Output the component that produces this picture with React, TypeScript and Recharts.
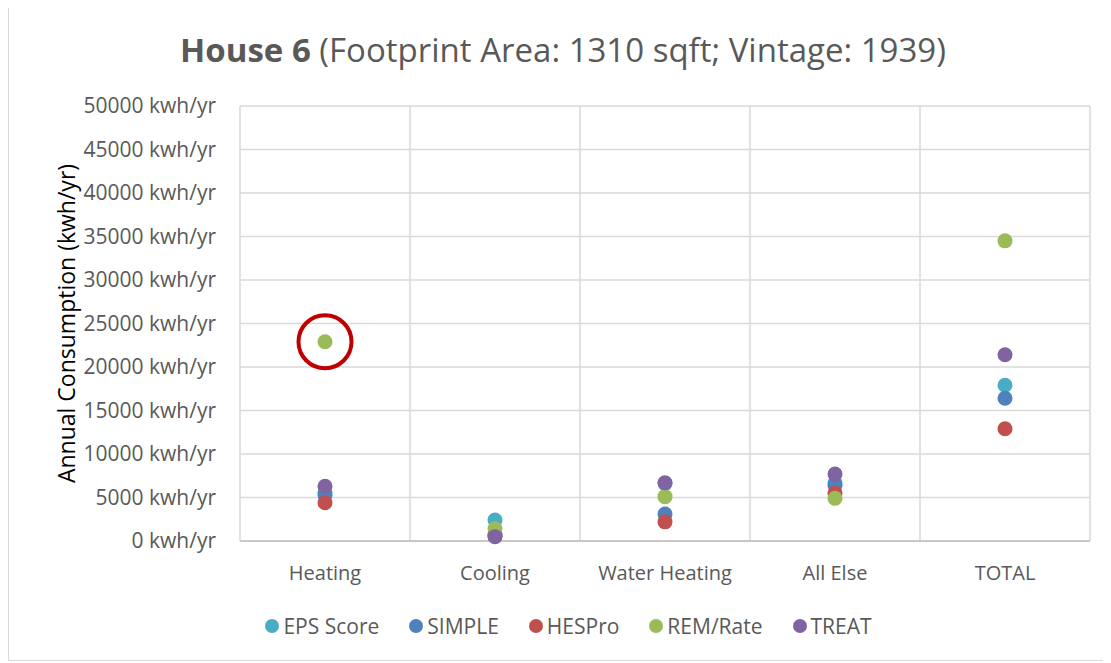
import React from 'react';
import {
  ScatterChart,
  Scatter,
  XAxis,
  YAxis,
  CartesianGrid,
  ReferenceLine,
  ReferenceDot,
  Legend,
} from 'recharts';

const CATEGORIES = ['Heating', 'Cooling', 'Water Heating', 'All Else', 'TOTAL'];
const Y_TICKS = [0, 5000, 10000, 15000, 20000, 25000, 30000, 35000, 40000, 45000, 50000];

const EPS_SCORE = [5600, 2400, 6600, 6700, 17900];
const SIMPLE = [5300, 800, 3100, 6400, 16400];
const HESPRO = [4400, 600, 2200, 5500, 12900];
const REM_RATE = [22900, 1400, 5100, 4900, 34500];
const TREAT = [6300, 500, 6700, 7700, 21400];

const SERIES = [
  { name: 'EPS Score', values: EPS_SCORE, color: '#4BACC6' },
  { name: 'SIMPLE', values: SIMPLE, color: '#4F81BD' },
  { name: 'HESPro', values: HESPRO, color: '#C0504D' },
  { name: 'REM/Rate', values: REM_RATE, color: '#9BBB59' },
  { name: 'TREAT', values: TREAT, color: '#8064A2' },
];

// the circled outlier: REM/Rate heating
const HIGHLIGHT_CAT = 0;

const FONT = '"Open Sans", sans-serif';
const TEXT = '#595959';

const toPoints = (values: number[]) =>
  CATEGORIES.map((c, i) => ({ x: i + 0.5, y: values[i], cat: c }));

const Dot = (props: any) => <circle cx={props.cx} cy={props.cy} r={7.5} fill={props.fill} />;

const YLabel = ({ viewBox }: any) => {
  const cx = 57;
  const cy = viewBox.y + viewBox.height / 2;
  return (
    <text
      x={cx}
      y={cy}
      transform={`rotate(-90 ${cx} ${cy})`}
      textAnchor="middle"
      dominantBaseline="central"
      fontSize={23}
      fill="#000"
      fontFamily={FONT}
    >
      Annual Consumption (kwh/yr)
    </text>
  );
};

const LegendBox = () => (
  <div style={{ display: 'flex', justifyContent: 'center', alignItems: 'center' }}>
    {SERIES.map((s, i) => (
      <div
        key={s.name}
        style={{
          display: 'flex',
          alignItems: 'center',
          marginRight: i < SERIES.length - 1 ? 30 : 0,
        }}
      >
        <span
          style={{
            width: 14,
            height: 14,
            borderRadius: 7,
            background: s.color,
            marginRight: 4,
            display: 'inline-block',
          }}
        />
        <span style={{ color: TEXT, fontSize: 21, lineHeight: '28px' }}>{s.name}</span>
      </div>
    ))}
  </div>
);

export default function App() {
  return (
    <div
      style={{
        width: 1095,
        height: 653,
        border: '1px solid #d9d9d9',
        marginTop: -2,
        position: 'relative',
        fontFamily: FONT,
        background: '#fff',
      }}
    >
      <div
        style={{
          position: 'absolute',
          top: 22,
          left: 554,
          transform: 'translateX(-50%)',
          whiteSpace: 'nowrap',
          fontSize: 33,
          lineHeight: '42px',
          color: TEXT,
          zIndex: 1,
        }}
      >
        <b>House 6</b> (Footprint Area: 1310 sqft; Vintage: 1939)
      </div>
      <ScatterChart
        width={1095}
        height={653}
        margin={{ top: 99, right: 14, bottom: 59, left: 0 }}
      >
        <CartesianGrid vertical={false} stroke="#d9d9d9" strokeWidth={1.5} />
        {CATEGORIES.map((c, i) => (
          <ReferenceLine key={c} x={i + 1} stroke="#d9d9d9" strokeWidth={1.5} />
        ))}
        <XAxis
          type="number"
          dataKey="x"
          domain={[0, CATEGORIES.length]}
          ticks={CATEGORIES.map((_, i) => i + 0.5)}
          tickFormatter={(v: number) => CATEGORIES[Math.floor(v)]}
          axisLine={{ stroke: '#bfbfbf', strokeWidth: 1.5 }}
          tickLine={false}
          height={60}
          tickMargin={19}
          tick={{ fill: TEXT, fontSize: 20, fontFamily: FONT }}
        />
        <YAxis
          type="number"
          dataKey="y"
          domain={[0, 50000]}
          ticks={Y_TICKS}
          tickFormatter={(v: number) => `${v} kwh/yr`}
          width={231}
          axisLine={{ stroke: '#d9d9d9', strokeWidth: 1.5 }}
          tickLine={false}
          tickMargin={18}
          tick={{ fill: TEXT, fontSize: 21, fontFamily: FONT }}
          label={<YLabel />}
        />
        <Legend
          verticalAlign="middle"
          align="center"
          content={<LegendBox />}
          wrapperStyle={{ top: 605, left: 0, width: 1119 }}
        />
        {SERIES.map((s) => (
          <Scatter
            key={s.name}
            name={s.name}
            data={toPoints(s.values)}
            fill={s.color}
            shape={Dot}
            isAnimationActive={false}
          />
        ))}
        <ReferenceDot
          x={HIGHLIGHT_CAT + 0.5}
          y={REM_RATE[HIGHLIGHT_CAT]}
          r={26.5}
          fill="none"
          stroke="#C00000"
          strokeWidth={4}
        />
      </ScatterChart>
    </div>
  );
}
